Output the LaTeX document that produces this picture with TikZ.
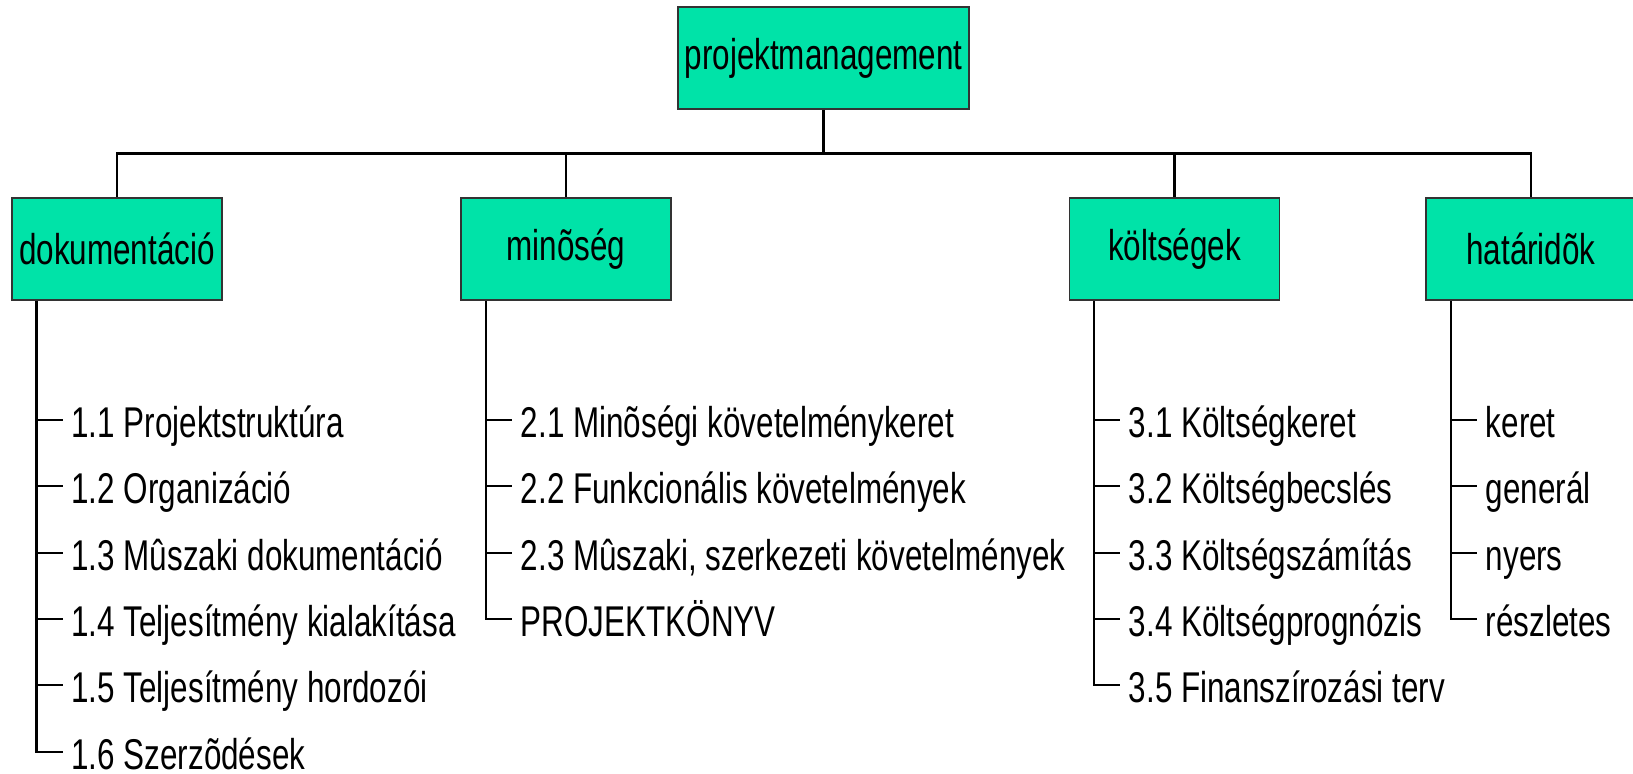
\documentclass[tikz,border=0pt]{standalone}
\usepackage{fontspec}
\setmainfont{Liberation Sans}[FakeStretch=0.73]
\usetikzlibrary{calc}

\definecolor{boxgreen}{RGB}{0,227,168}
\newcommand{\wbsfont}{\fontsize{24.5}{29}\selectfont}

\tikzset{
  wbsbox/.style={draw=black!80, fill=boxgreen, line width=1.1pt,
    minimum width=4.2cm, minimum height=2.04cm, inner sep=0pt, font=\wbsfont},
  topbox/.style={wbsbox, minimum width=5.82cm},
  wbsitem/.style={anchor=west, inner xsep=0.17cm, inner ysep=0pt,
    text height=0.7cm, text depth=0pt, font=\wbsfont},
  wbsline/.style={line width=1.2pt}
}

\begin{document}
\begin{tikzpicture}[x=0.02cm, y=-0.02cm]
        \useasboundingbox (0,0) rectangle (1633,774);

        % Top of the structure
        \node[topbox] (pm) at (823.5,58) {projektmanagement};
        \coordinate (bus) at (0,153.5);

        % Second level
        \node[wbsbox] (doc) at (117,249) {dokumentáció};
        \node[wbsbox] (qual) at (566,249) {minõség};
        \node[wbsbox] (cost) at (1174.5,249) {költségek};
        \node[wbsbox] (dead) at (1531,249) {határidõk};

        \draw[wbsline] (pm.south) -- (pm.south |- bus) -| (doc.north);
        \draw[wbsline] (pm.south |- bus) -| (qual.north);
        \draw[wbsline] (pm.south |- bus) -| (cost.north);
        \draw[wbsline] (pm.south |- bus) -| (dead.north);

        % Branch lines under the boxes
        \coordinate (docb) at ([xshift=0.51cm]doc.south west);
        \coordinate (qualb) at ([xshift=0.51cm]qual.south west);
        \coordinate (costb) at ([xshift=0.51cm]cost.south west);
        \coordinate (deadb) at ([xshift=0.51cm]dead.south west);

        % dokumentáció items
        \node[wbsitem] (d1) at (62.5,420) {1.1 Projektstruktúra};
        \node[wbsitem] (d2) at (62.5,486) {1.2 Organizáció};
        \node[wbsitem] (d3) at (62.5,553) {1.3 Mûszaki dokumentáció};
        \node[wbsitem] (d4) at (62.5,619) {1.4 Teljesítmény kialakítása};
        \node[wbsitem] (d5) at (62.5,685) {1.5 Teljesítmény hordozói};
        \node[wbsitem] (d6) at (62.5,752) {1.6 Szerzõdések};
        \draw[wbsline] (docb) |- (d6.west);
        \draw[wbsline] (d1.west -| docb) -- (d1.west);
        \draw[wbsline] (d2.west -| docb) -- (d2.west);
        \draw[wbsline] (d3.west -| docb) -- (d3.west);
        \draw[wbsline] (d4.west -| docb) -- (d4.west);
        \draw[wbsline] (d5.west -| docb) -- (d5.west);

        % minõség items
        \node[wbsitem] (q1) at (512,420) {2.1 Minõségi követelménykeret};
        \node[wbsitem] (q2) at (512,486) {2.2 Funkcionális követelmények};
        \node[wbsitem] (q3) at (512,553) {2.3 Mûszaki, szerkezeti követelmények};
        \node[wbsitem] (q4) at (512,619) {PROJEKTKÖNYV};
        \draw[wbsline] (qualb) |- (q4.west);
        \draw[wbsline] (q1.west -| qualb) -- (q1.west);
        \draw[wbsline] (q2.west -| qualb) -- (q2.west);
        \draw[wbsline] (q3.west -| qualb) -- (q3.west);

        % költségek items
        \node[wbsitem] (c1) at (1120,420) {3.1 Költségkeret};
        \node[wbsitem] (c2) at (1120,486) {3.2 Költségbecslés};
        \node[wbsitem] (c3) at (1120,553) {3.3 Költségszámítás};
        \node[wbsitem] (c4) at (1120,619) {3.4 Költségprognózis};
        \node[wbsitem] (c5) at (1120,685) {3.5 Finanszírozási terv};
        \draw[wbsline] (costb) |- (c5.west);
        \draw[wbsline] (c1.west -| costb) -- (c1.west);
        \draw[wbsline] (c2.west -| costb) -- (c2.west);
        \draw[wbsline] (c3.west -| costb) -- (c3.west);
        \draw[wbsline] (c4.west -| costb) -- (c4.west);

        % határidõk items
        \node[wbsitem] (h1) at (1477,420) {keret};
        \node[wbsitem] (h2) at (1477,486) {generál};
        \node[wbsitem] (h3) at (1477,553) {nyers};
        \node[wbsitem] (h4) at (1477,619) {részletes};
        \draw[wbsline] (deadb) |- (h4.west);
        \draw[wbsline] (h1.west -| deadb) -- (h1.west);
        \draw[wbsline] (h2.west -| deadb) -- (h2.west);
        \draw[wbsline] (h3.west -| deadb) -- (h3.west);
    \end{tikzpicture}
\end{document}
